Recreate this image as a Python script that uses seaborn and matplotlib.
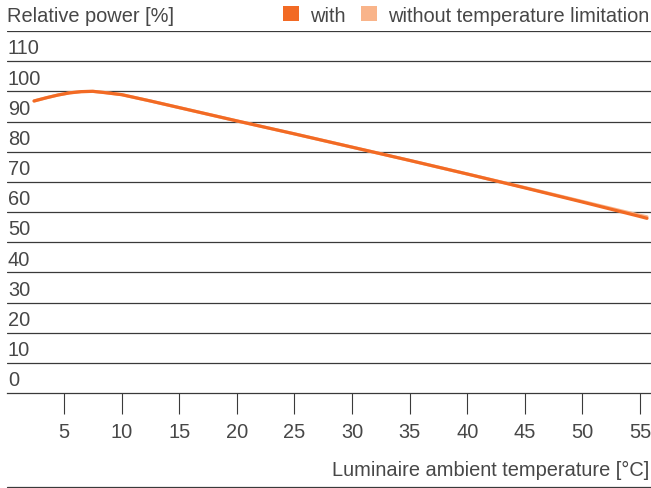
import matplotlib
matplotlib.use("Agg")
import matplotlib.pyplot as plt
import matplotlib.transforms as mtransforms
from matplotlib.patches import Patch
from matplotlib.lines import Line2D
import seaborn as sns
import pandas as pd

# Luminaire ambient temperature [°C]
temperature = [2.4, 3.5, 4.5, 5.5, 6.5, 7.5, 8.5, 10, 12.5, 15, 17.5, 20,
               25, 30, 35, 40, 45, 50, 55, 55.6]
# Relative power [%] with temperature limitation
power_with = [96.8, 97.9, 98.8, 99.5, 99.9, 100.0, 99.6, 98.9, 96.8, 94.6,
              92.4, 90.2, 85.9, 81.5, 77.1, 72.6, 68.0, 63.3, 58.5, 57.9]
# Relative power [%] without temperature limitation
power_without = [96.8, 97.9, 98.8, 99.5, 99.9, 100.0, 99.6, 98.9, 96.8, 94.6,
                 92.4, 90.2, 85.9, 81.5, 77.1, 72.6, 68.1, 63.5, 58.9, 58.4]

y_ticks = [0, 10, 20, 30, 40, 50, 60, 70, 80, 90, 100, 110]
x_ticks = [5, 10, 15, 20, 25, 30, 35, 40, 45, 50, 55]

series_names = ["without temperature limitation", "with"]
palette = {"with": "#f26a24", "without temperature limitation": "#f9b48a"}

df = pd.DataFrame({
    "temperature": temperature * 2,
    "power": power_without + power_with,
    "series": [series_names[0]] * len(temperature) + [series_names[1]] * len(temperature),
})

sns.set_theme(style="white")
plt.rcParams["font.family"] = ["Liberation Sans", "DejaVu Sans"]
text_color = "#474747"
line_color = "#3a3a3a"
fs = 14.4

W, H = 651, 489
fig = plt.figure(figsize=(W / 100, H / 100), dpi=100)
ax = fig.add_axes([7 / W, 1 - 394 / H, 1 - 7 / W, (394 - 32) / H])

sns.lineplot(data=df, x="temperature", y="power", hue="series",
             hue_order=series_names, palette=palette, linewidth=2.3,
             legend=False, ax=ax, zorder=3)

ax.set_xlim(0.05, 55.95)
ax.set_ylim(0, 120)

# horizontal rules for every 10 % step, including the header rule
for v in range(10, 121, 10):
    ax.axhline(v, color=line_color, linewidth=0.9, zorder=1)

for s in ["top", "right", "left"]:
    ax.spines[s].set_visible(False)
ax.spines["bottom"].set_color(line_color)
ax.spines["bottom"].set_linewidth(0.9)

ax.set_yticks([])
ax.set_xticks(x_ticks)
ax.set_xticklabels([str(t) for t in x_ticks], fontsize=fs, color=text_color)
ax.tick_params(axis="x", direction="out", length=15, width=0.8,
               color=line_color, pad=6, bottom=True)
ax.set_xlabel("")
ax.set_ylabel("")

# y labels sit just above their rule
trans = mtransforms.blended_transform_factory(ax.transAxes, ax.transData)
for v in y_ticks:
    ax.text(0.0015, v + 4.4, str(v), transform=trans, ha="left", va="center",
            fontsize=fs, color=text_color)

# header title and legend
fig.text(7 / W, 1 - 17 / H, "Relative power [%]", ha="left", va="center",
         fontsize=fs, color=text_color)
handles = [Patch(facecolor=palette["with"], edgecolor="none"),
           Patch(facecolor=palette["without temperature limitation"], edgecolor="none")]
fig.legend(handles, ["with", "without temperature limitation"], ncol=2,
           loc="center right", bbox_to_anchor=(649 / W, 1 - 16 / H),
           frameon=False, fontsize=fs, handlelength=0.8, handleheight=0.8,
           handletextpad=0.55, columnspacing=0.75, labelcolor=text_color,
           borderaxespad=0, borderpad=0)

# x-axis title and closing rule
fig.text(649 / W, 1 - 470 / H, "Luminaire ambient temperature [°C]",
         ha="right", va="center", fontsize=fs, color=text_color)
fig.add_artist(Line2D([7 / W, 1.0], [1 - 488 / H, 1 - 488 / H],
                      transform=fig.transFigure, color=line_color, linewidth=0.9))

fig.savefig("out.png", dpi=100)
